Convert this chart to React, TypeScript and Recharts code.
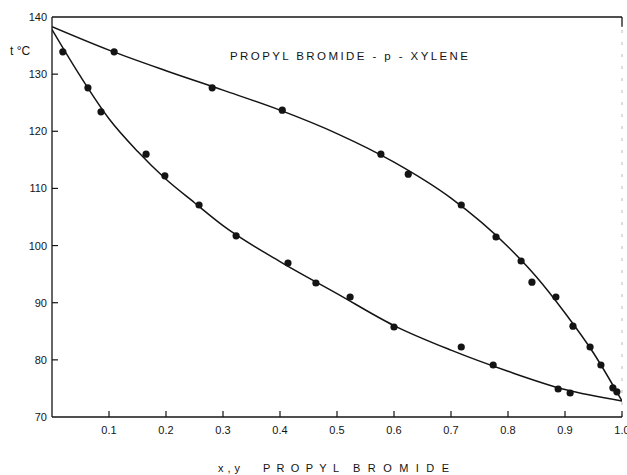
import React from 'react';
import { ComposedChart, XAxis, YAxis, Line, Scatter, ReferenceLine } from 'recharts';

// Measured points: liquid (x) and vapour (y) compositions of propyl bromide
const liquidX = [0.019, 0.063, 0.086, 0.165, 0.198, 0.258, 0.323, 0.414, 0.463, 0.523, 0.6, 0.718, 0.774, 0.888, 0.909];
const liquidT = [133.9, 127.6, 123.4, 116.0, 112.2, 107.1, 101.7, 96.95, 93.45, 91.0, 85.75, 82.25, 79.1, 74.9, 74.2];
const vaporX = [0.109, 0.281, 0.404, 0.577, 0.625, 0.718, 0.779, 0.823, 0.842, 0.884, 0.914, 0.944, 0.963, 0.984, 0.991];
const vaporT = [133.9, 127.6, 123.7, 116.0, 112.5, 107.1, 101.5, 97.3, 93.6, 91.0, 85.9, 82.25, 79.1, 75.1, 74.4];

// Smooth fitted curves
const liquidCurveX = [0, 0.05, 0.1, 0.15, 0.2, 0.25, 0.3, 0.4, 0.5, 0.6, 0.7, 0.8, 0.9, 1.0];
const liquidCurveT = [137.8, 129.6, 122.2, 116.5, 111.6, 107.5, 103.5, 97.2, 91.6, 86.0, 81.7, 78.0, 74.8, 72.8];
const vaporCurveX = [0, 0.1, 0.2, 0.3, 0.4, 0.5, 0.6, 0.7, 0.8, 0.85, 0.9, 0.95, 1.0];
const vaporCurveT = [138.3, 134.2, 130.6, 127.2, 123.7, 119.6, 114.6, 108.3, 99.8, 94.5, 88.2, 81.2, 72.8];

const xTicks = [0.1, 0.2, 0.3, 0.4, 0.5, 0.6, 0.7, 0.8, 0.9, 1.0];
const yTicks = [70, 80, 90, 100, 110, 120, 130, 140];

const FONT = '"Liberation Sans", Arial, sans-serif';
const INK = '#141414';

const liquidPts = liquidX.map((x, i) => ({ x, t: liquidT[i] }));
const vaporPts = vaporX.map((x, i) => ({ x, t: vaporT[i] }));
const liquidCurve = liquidCurveX.map((x, i) => ({ x, t: liquidCurveT[i] }));
const vaporCurve = vaporCurveX.map((x, i) => ({ x, t: vaporCurveT[i] }));

const XTick = (props: any) => {
  const { x, y, payload } = props;
  const axisY = y - 8;
  return (
    <g>
      <line x1={x} x2={x} y1={axisY} y2={axisY - 6} stroke={INK} strokeWidth={1.2} />
      <text x={x} y={y + 9} textAnchor="middle" fontSize={11} fontFamily={FONT} fill={INK}>
        {Number(payload.value).toFixed(1)}
      </text>
    </g>
  );
};

const YTick = (props: any) => {
  const { x, y, payload } = props;
  const axisX = x + 5;
  return (
    <g>
      {payload.value !== 140 && payload.value !== 70 && (
        <line x1={axisX} x2={axisX + 6} y1={y} y2={y} stroke={INK} strokeWidth={1.2} />
      )}
      <text x={x} y={y + 4} textAnchor="end" fontSize={11} fontFamily={FONT} fill={INK}>
        {payload.value}
      </text>
    </g>
  );
};

const Dot = (p: any) => <circle cx={p.cx} cy={p.cy} r={3.6} fill={INK} />;

export default function App() {
  return (
    <div style={{ position: 'absolute', left: 0, top: 0, width: 627, height: 475, background: '#fff' }}>
      <ComposedChart width={627} height={475} margin={{ top: 17, right: 5, bottom: 28, left: 0 }}>
        <XAxis
          type="number"
          dataKey="x"
          domain={[0, 1]}
          ticks={xTicks}
          tick={<XTick />}
          tickLine={false}
          tickSize={0}
          tickMargin={8}
          height={30}
          axisLine={{ stroke: INK, strokeWidth: 1.3 }}
          allowDataOverflow
        />
        <YAxis
          type="number"
          dataKey="t"
          domain={[70, 140]}
          ticks={yTicks}
          tick={<YTick />}
          tickLine={false}
          tickSize={0}
          tickMargin={5}
          width={52}
          axisLine={{ stroke: INK, strokeWidth: 1.3 }}
          allowDataOverflow
        />
        <ReferenceLine y={140} stroke={INK} strokeWidth={1.3} />
        <ReferenceLine segment={[{ x: 1, y: 138.3 }, { x: 1, y: 140 }]} stroke={INK} strokeWidth={1.3} />
        <ReferenceLine segment={[{ x: 1, y: 70 }, { x: 1, y: 138.3 }]} stroke="#bbb" strokeWidth={1} strokeDasharray="3 9" />
        <Line data={liquidCurve} dataKey="t" type="monotone" dot={false} stroke={INK} strokeWidth={1.5} isAnimationActive={false} />
        <Line data={vaporCurve} dataKey="t" type="monotone" dot={false} stroke={INK} strokeWidth={1.5} isAnimationActive={false} />
        <Scatter data={liquidPts} dataKey="t" shape={<Dot />} isAnimationActive={false} />
        <Scatter data={vaporPts} dataKey="t" shape={<Dot />} isAnimationActive={false} />
      </ComposedChart>
      <svg width={627} height={475} style={{ position: 'absolute', left: 0, top: 0, pointerEvents: 'none' }}>
        <text x={10} y={55} fontSize={12} fontFamily={FONT} fill={INK}>t °C</text>
        <text x={230} y={60} fontSize={11.5} fontFamily={FONT} fill={INK} textLength={238} lengthAdjust="spacing">
          PROPYL BROMIDE - p - XYLENE
        </text>
        <text x={218} y={472} fontSize={11} fontFamily={FONT} fill={INK} textLength={22} lengthAdjust="spacing">x,y</text>
        <text x={263} y={472} fontSize={11} fontFamily={FONT} fill={INK} textLength={76} lengthAdjust="spacing">PROPYL</text>
        <text x={353} y={472} fontSize={11} fontFamily={FONT} fill={INK} textLength={96} lengthAdjust="spacing">BROMIDE</text>
      </svg>
    </div>
  );
}
